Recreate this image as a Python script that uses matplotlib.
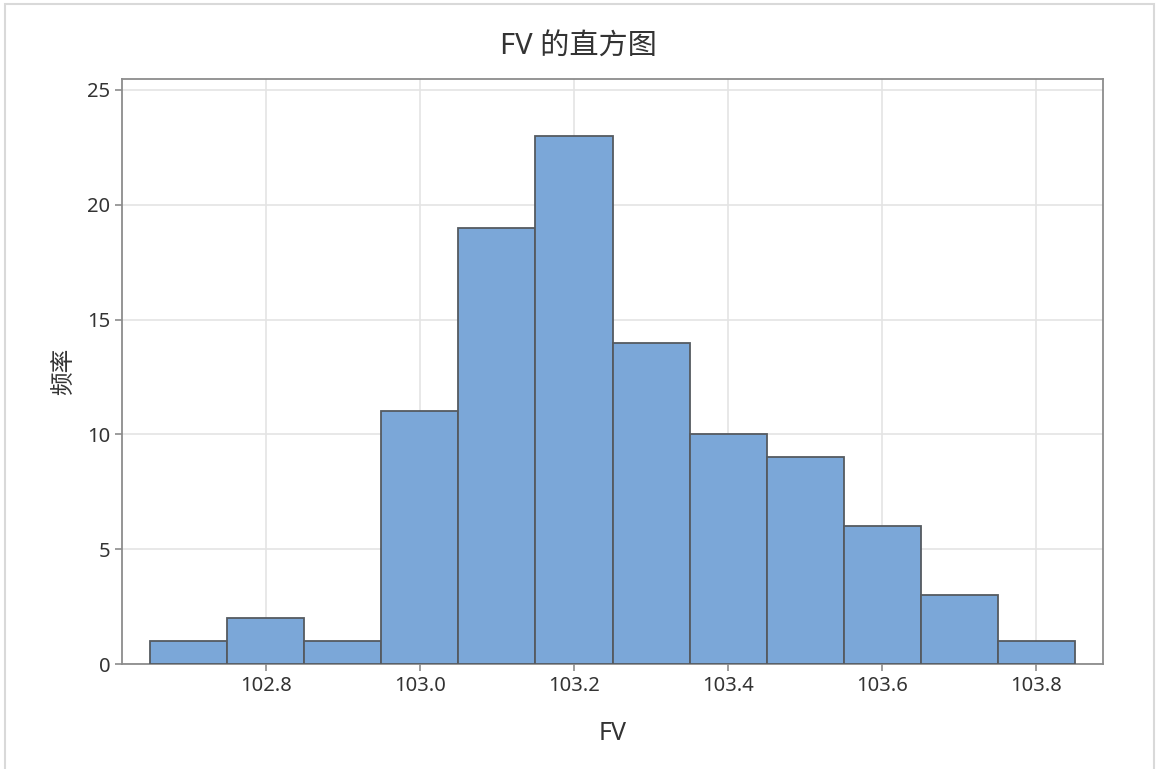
import matplotlib
matplotlib.use('Agg')
from matplotlib import pyplot
from matplotlib.patches import Rectangle

pyplot.rcParams['font.family'] = ['Noto Sans', 'Noto Sans CJK SC', 'DejaVu Sans']

# histogram of FV, bin edges width 0.1
bin_edges = [102.65, 102.75, 102.85, 102.95, 103.05, 103.15, 103.25,
             103.35, 103.45, 103.55, 103.65, 103.75, 103.85]
counts = [1, 2, 1, 11, 19, 23, 14, 10, 9, 6, 3, 1]
x_ticks = [102.8, 103.0, 103.2, 103.4, 103.6, 103.8]
y_ticks = [0, 5, 10, 15, 20, 25]

txt = '#333333'
fig = pyplot.figure(figsize=(11.56, 7.69), dpi=100)
fig.patches.append(Rectangle((0.004, -0.01), 0.994, 1.005, transform=fig.transFigure,
                             fill=False, edgecolor='#d9d9d9', linewidth=1.5))

ax = fig.add_axes([0.1055, 0.1365, 0.8487, 0.7608])
widths = [bin_edges[i + 1] - bin_edges[i] for i in range(len(counts))]
ax.bar(bin_edges[:-1], counts, width=widths, align='edge',
       color='#7BA7D8', edgecolor='#555a60', linewidth=1.3, zorder=3)

ax.set_xlim(102.613, 103.887)
ax.set_ylim(0, 25.48)
ax.set_xticks(x_ticks)
ax.set_xticklabels(['%.1f' % v for v in x_ticks])
ax.set_yticks(y_ticks)
ax.grid(True, color='#e4e4e4', linewidth=1.2, zorder=0)
for s in ax.spines.values():
    s.set_color('#8c8c8c')
    s.set_linewidth(1.3)
ax.tick_params(colors='#8c8c8c', labelcolor=txt, labelsize=14.5, length=5, width=1.2)

ax.set_xlabel('FV', fontsize=18, color=txt, labelpad=18)
ax.set_ylabel('频率', fontsize=17, color=txt, labelpad=8)
fig.suptitle('FV 的直方图', fontsize=21, color=txt, y=0.958)

pyplot.savefig('out.png', dpi=100)
